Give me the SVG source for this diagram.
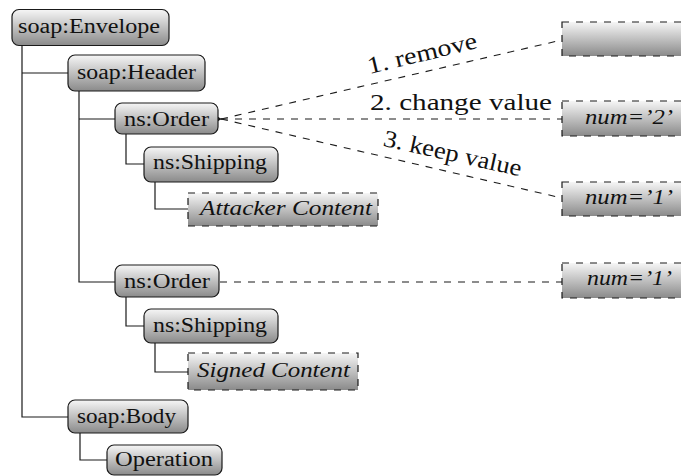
<svg xmlns="http://www.w3.org/2000/svg" width="681" height="476" viewBox="0 0 681 476">
  <defs>
    <linearGradient id="shade" x1="0" y1="0" x2="0" y2="1">
      <stop offset="0" stop-color="#f6f6f6"/>
      <stop offset="1" stop-color="#8a8a8a"/>
    </linearGradient>
    <marker id="tip" viewBox="0 0 8 6" refX="0.5" refY="3" markerWidth="8" markerHeight="6" markerUnits="userSpaceOnUse" orient="auto-start-reverse">
      <path d="M0 3 L8 0 L6 3 L8 6 Z" fill="#1a1a1a"/>
    </marker>
  </defs>
  <style>
    .node rect { fill: url(#shade); stroke: #1a1a1a; stroke-width: 1.2; }
    .node rect.round { rx: 7px; ry: 7px; }
    .node rect.dash { stroke-dasharray: 7 7; }
    text { font-family: "Liberation Serif", "Times New Roman", serif; fill: #111; }
    .lbl { font-size: 20.5px; }
    .it { font-size: 20px; font-style: italic; }
    .big { font-size: 24px; }
    .tree path { fill: none; stroke: #1a1a1a; stroke-width: 1.2; }
    .links path { fill: none; stroke: #1a1a1a; stroke-width: 1.1; stroke-dasharray: 7 7; }
  </style>

  <!-- tree connectors -->
  <g id="tree" class="tree">
    <path d="M22 46 V417 H68 M22 73 H68"/>
    <path d="M79 91 V282 H115 M79 119 H115"/>
    <path d="M126 134 V164 H144"/>
    <path d="M155 182 V209 H188"/>
    <path d="M126 297 V326 H144"/>
    <path d="M155 343 V372 H188"/>
    <path d="M80 433 V460 H107"/>
  </g>

  <!-- dashed links to the value boxes -->
  <g id="links" class="links">
    <path d="M221 119 L562 40" marker-start="url(#tip)"/>
    <path d="M221 119 L562 119" marker-start="url(#tip)"/>
    <path d="M221 119 L562 198" marker-start="url(#tip)"/>
    <path d="M220 282 H562"/>
    <text class="big" transform="translate(424 61) rotate(-13.5)" text-anchor="middle" textLength="112" lengthAdjust="spacingAndGlyphs">1. remove</text>
    <text class="big" x="370" y="110" textLength="182" lengthAdjust="spacingAndGlyphs">2. change value</text>
    <text class="big" transform="translate(451 161) rotate(12.5)" text-anchor="middle" textLength="141" lengthAdjust="spacingAndGlyphs">3. keep value</text>
  </g>

  <g id="envelope" class="node">
    <rect class="round" x="12" y="9.5" width="157" height="36"/>
    <text class="lbl" x="18" y="33" textLength="142" lengthAdjust="spacingAndGlyphs">soap:Envelope</text>
  </g>
  <g id="header" class="node">
    <rect class="round" x="68" y="55" width="137" height="36"/>
    <text class="lbl" x="77" y="79" textLength="119" lengthAdjust="spacingAndGlyphs">soap:Header</text>
  </g>
  <g id="order1" class="node">
    <rect class="round" x="115" y="103" width="103" height="31"/>
    <text class="lbl" x="124" y="126" textLength="85" lengthAdjust="spacingAndGlyphs">ns:Order</text>
  </g>
  <g id="shipping1" class="node">
    <rect class="round" x="144" y="147" width="134" height="35"/>
    <text class="lbl" x="153" y="169" textLength="114" lengthAdjust="spacingAndGlyphs">ns:Shipping</text>
  </g>
  <g id="attacker" class="node">
    <rect class="dash" x="188" y="193" width="190" height="33"/>
    <text class="it" x="200" y="215" textLength="172" lengthAdjust="spacingAndGlyphs">Attacker Content</text>
  </g>
  <g id="order2" class="node">
    <rect class="round" x="115" y="265" width="104" height="32"/>
    <text class="lbl" x="124" y="288" textLength="86" lengthAdjust="spacingAndGlyphs">ns:Order</text>
  </g>
  <g id="shipping2" class="node">
    <rect class="round" x="144" y="309" width="134" height="34"/>
    <text class="lbl" x="153" y="332" textLength="114" lengthAdjust="spacingAndGlyphs">ns:Shipping</text>
  </g>
  <g id="signed" class="node">
    <rect class="dash" x="188" y="353" width="170" height="37"/>
    <text class="it" x="197" y="377" textLength="153" lengthAdjust="spacingAndGlyphs">Signed Content</text>
  </g>
  <g id="body" class="node">
    <rect class="round" x="68" y="400" width="120" height="33"/>
    <text class="lbl" x="77" y="423" textLength="99" lengthAdjust="spacingAndGlyphs">soap:Body</text>
  </g>
  <g id="operation" class="node">
    <rect class="round" x="107" y="445" width="115" height="30"/>
    <text class="lbl" x="115" y="466" textLength="98" lengthAdjust="spacingAndGlyphs">Operation</text>
  </g>

  <g id="removed" class="node">
    <rect class="dash" x="562" y="22" width="130" height="34"/>
  </g>
  <g id="changed" class="node">
    <rect class="dash" x="562" y="101" width="130" height="35"/>
    <text class="it" x="585" y="124" textLength="88" lengthAdjust="spacingAndGlyphs">num=’2’</text>
  </g>
  <g id="kept" class="node">
    <rect class="dash" x="562" y="182" width="130" height="34"/>
    <text class="it" x="585" y="204" textLength="88" lengthAdjust="spacingAndGlyphs">num=’1’</text>
  </g>
  <g id="original" class="node">
    <rect class="dash" x="562" y="263" width="130" height="35"/>
    <text class="it" x="587" y="285" textLength="85" lengthAdjust="spacingAndGlyphs">num=’1’</text>
  </g>
</svg>
